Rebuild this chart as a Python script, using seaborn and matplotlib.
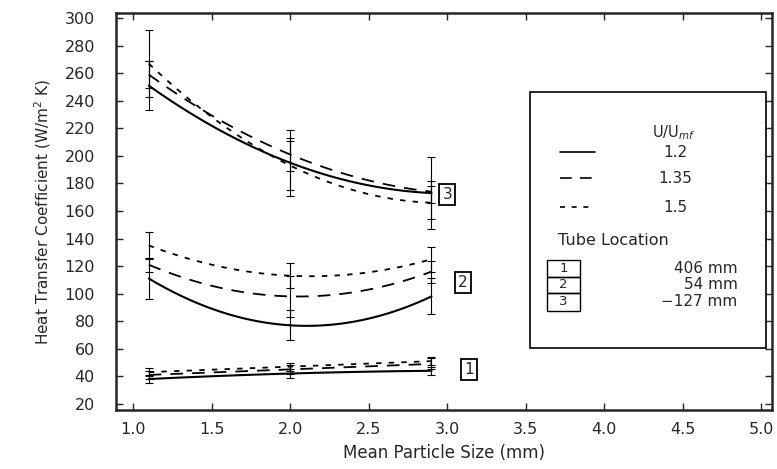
import numpy as np
import pandas as pd
import matplotlib
matplotlib.use('Agg')
import matplotlib.pyplot as plt
import seaborn as sns

# mean particle size (mm) where the tubes were measured
size_mm = [1.1, 2.0, 2.9]

# heat transfer coefficient (W/m2 K), tube 3 (-127 mm)
h3_u12 = [251, 195, 173]
h3_u135 = [259, 201, 174]
h3_u15 = [267, 193, 166]
err3_u12 = [18, 24, 26]
err3_u135 = [10, 12, 8]
err3_u15 = [24, 18, 12]

# tube 2 (54 mm)
h2_u12 = [111, 77, 98]
h2_u135 = [121, 98, 116]
h2_u15 = [135, 113, 125]
err2_u12 = [15, 11, 13]
err2_u135 = [5, 15, 8]
err2_u15 = [10, 9, 9]

# tube 1 (406 mm)
h1_u12 = [38, 42, 44]
h1_u135 = [41, 45, 49]
h1_u15 = [43, 47, 51]
err1_u12 = [3, 3, 3]
err1_u135 = [3, 3, 4]
err1_u15 = [3, 3, 3]

ratio_labels = ['1.2', '1.35', '1.5']
tube_ids = ['1', '2', '3']
tube_locs = ['406 mm', '54 mm', '\u2212127 mm']

sns.set_style('ticks')
plt.rcParams['font.family'] = ['DejaVu Sans']
plt.rcParams['xtick.direction'] = 'in'
plt.rcParams['ytick.direction'] = 'in'

fig = plt.figure(figsize=(7.77, 4.69), dpi=100)
ax = fig.add_axes([0.149, 0.126, 0.845, 0.846])

styles = ['-', (0, (7, 5)), (0, (3, 4))]
series = [
    (h3_u12, err3_u12, 0), (h3_u135, err3_u135, 1), (h3_u15, err3_u15, 2),
    (h2_u12, err2_u12, 0), (h2_u135, err2_u135, 1), (h2_u15, err2_u15, 2),
    (h1_u12, err1_u12, 0), (h1_u135, err1_u135, 1), (h1_u15, err1_u15, 2),
]

for h, err, k in series:
    df = pd.DataFrame({'size': size_mm, 'h': h})
    # quadratic through the three measured points, like the original fits
    sns.regplot(data=df, x='size', y='h', order=2, ci=None, scatter=False,
                truncate=True, color='black', ax=ax,
                line_kws={'linestyle': styles[k], 'linewidth': 1.5 if k == 0 else 1.3})
    ax.errorbar(size_mm, h, yerr=err, fmt='none', ecolor='black',
                elinewidth=0.8, capsize=3, capthick=0.8)

# boxed tube numbers next to each group
for tid, (xx, yy) in zip(tube_ids, [(3.14, 45), (3.1, 108), (3.0, 172)]):
    ax.text(xx, yy, tid, ha='center', va='center', fontsize=11,
            bbox=dict(boxstyle='square,pad=0.2', fc='white', ec='black', lw=1.3))

ax.set_xlim(0.89, 5.07)
ax.set_ylim(15.6, 303.6)
ax.set_xticks(np.arange(1.0, 5.01, 0.5))
ax.set_yticks(np.arange(20, 301, 20))
ax.xaxis.set_major_formatter(matplotlib.ticker.FormatStrFormatter('%.1f'))
ax.tick_params(top=True, right=True, length=5, width=1, labelsize=11.5)
ax.tick_params(axis='x', pad=9)
ax.tick_params(axis='y', pad=15)
for sp in ax.spines.values():
    sp.set_linewidth(1.8)

ax.set_xlabel('Mean Particle Size (mm)', fontsize=12, labelpad=5)
ax.set_ylabel('Heat Transfer Coefficient (W/m$^2$ K)', fontsize=11, labelpad=8)

# hand-drawn legend box
tr = ax.transAxes
ax.add_patch(plt.Rectangle((0.631, 0.156), 0.36, 0.645, transform=tr,
                           fill=False, ec='black', lw=1.2, zorder=5))
ax.text(0.849, 0.700, 'U/U$_{mf}$', transform=tr, ha='center', va='center', fontsize=10.5)
for k, (lab, yy) in enumerate(zip(ratio_labels, [0.650, 0.584, 0.511])):
    ax.plot([0.677, 0.730], [yy, yy], transform=tr, color='black',
            linestyle=styles[k], linewidth=1.2)
    ax.text(0.852, yy, lab, transform=tr, ha='center', va='center', fontsize=11)
ax.text(0.673, 0.428, 'Tube Location', transform=tr, ha='left', va='center', fontsize=11.5)
row_edges = [0.378, 0.335, 0.295, 0.249]
for i in range(3):
    y0, y1 = row_edges[i + 1], row_edges[i]
    ax.add_patch(plt.Rectangle((0.657, y0), 0.05, y1 - y0, transform=tr,
                               fill=False, ec='black', lw=1.0))
    ym = (y0 + y1) / 2
    ax.text(0.682, ym, tube_ids[i], transform=tr, ha='center', va='center', fontsize=9.5)
    ax.text(0.947, ym, tube_locs[i], transform=tr, ha='right', va='center', fontsize=11)

fig.savefig('out.png', dpi=100)
